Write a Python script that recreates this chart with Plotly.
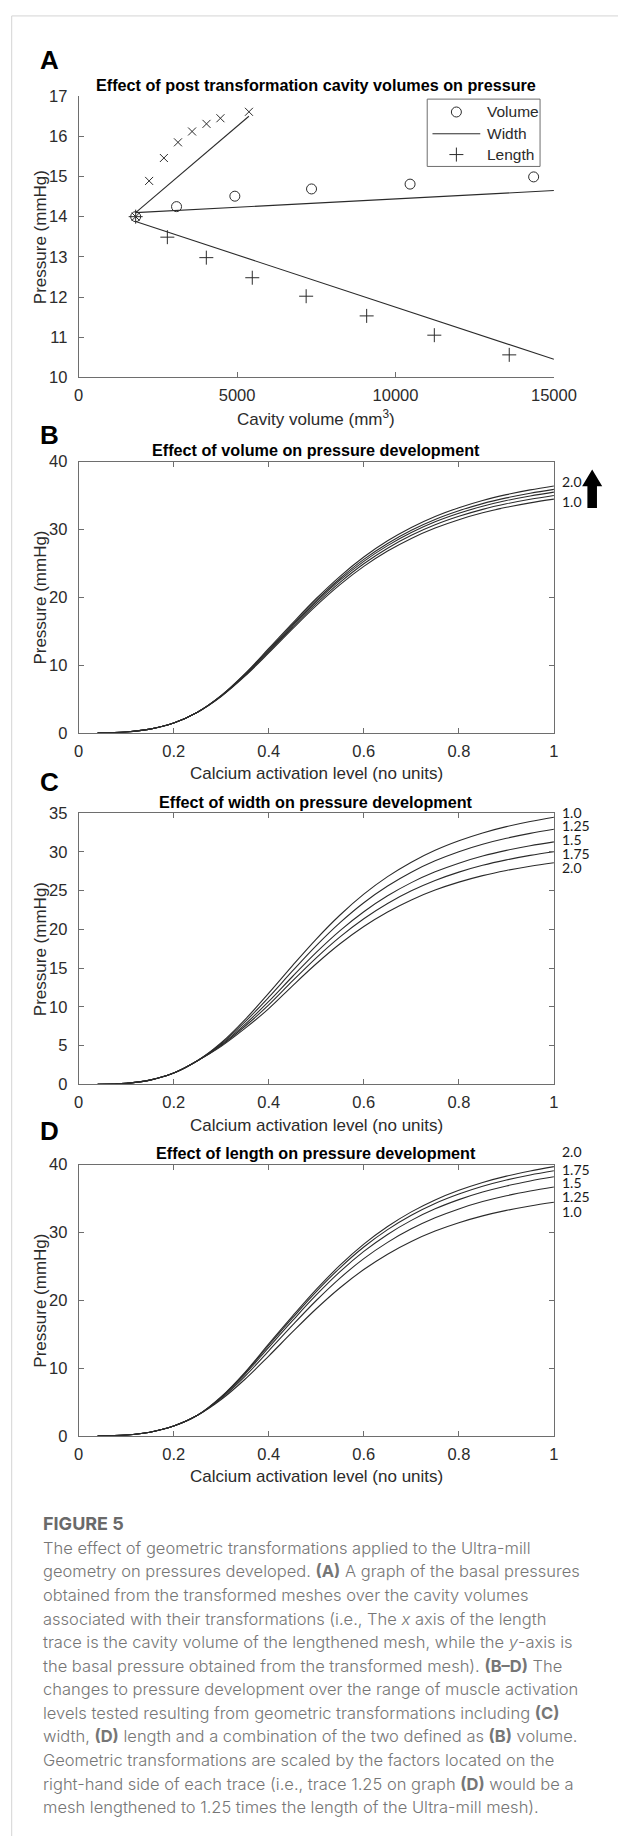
import plotly.graph_objects as go

W, H = 641, 1845


def px(x):
    return x / W


def py(y):
    return 1 - y / H


# ---------------- Panel A data ----------------
vol_x = [1800, 3090, 4930, 7350, 10460, 14360]
vol_y = [14.0, 14.25, 14.51, 14.69, 14.81, 14.99]
wid_x = [1800, 2225, 2690, 3135, 3580, 4035, 4475, 5375]
wid_y = [14.0, 14.89, 15.46, 15.85, 16.12, 16.31, 16.45, 16.61]
len_x = [1800, 2800, 4030, 5480, 7180, 9090, 11225, 13590]
len_y = [14.0, 13.49, 12.98, 12.48, 12.02, 11.53, 11.05, 10.56]
fit_vol_x = [1800, 15000]
fit_vol_y = [14.1, 14.65]
fit_wid_x = [1800, 5373]
fit_wid_y = [14.1, 16.5]
fit_len_x = [1800, 15000]
fit_len_y = [13.88, 10.45]

# ---------------- Panels B-D data ----------------
act = [0.04, 0.1, 0.15, 0.2, 0.25, 0.3, 0.35, 0.4, 0.45, 0.5, 0.55, 0.6,
       0.65, 0.7, 0.75, 0.8, 0.85, 0.9, 0.95, 1.0]

p_base = [0.0, 0.13, 0.55, 1.46, 3.05, 5.37, 8.36, 11.78, 15.33, 18.75, 21.85,
          24.54, 26.80, 28.67, 30.20, 31.43, 32.44, 33.25, 33.91, 34.46]

# B: volume
vol_125 = [0.0, 0.13, 0.55, 1.46, 3.05, 5.41, 8.47, 11.96, 15.57, 19.04, 22.19,
           24.93, 27.22, 29.12, 30.67, 31.92, 32.95, 33.77, 34.44, 35.00]
vol_150 = [0.0, 0.13, 0.55, 1.46, 3.05, 5.45, 8.56, 12.13, 15.79, 19.31, 22.51,
           25.28, 27.60, 29.53, 31.11, 32.37, 33.41, 34.25, 34.93, 35.49]
vol_175 = [0.0, 0.13, 0.55, 1.46, 3.05, 5.48, 8.64, 12.27, 15.97, 19.53, 22.76,
           25.57, 27.92, 29.87, 31.46, 32.74, 33.80, 34.64, 35.33, 35.90]
vol_200 = [0.0, 0.13, 0.55, 1.46, 3.05, 5.52, 8.74, 12.44, 16.19, 19.81, 23.08,
           25.92, 28.31, 30.28, 31.90, 33.20, 34.27, 35.12, 35.82, 36.40]

# C: width
wid_125 = [0.0, 0.13, 0.55, 1.46, 3.05, 5.25, 8.06, 11.25, 14.64, 17.91, 20.87,
           23.44, 25.59, 27.38, 28.84, 30.02, 30.98, 31.75, 32.38, 32.91]
wid_150 = [0.0, 0.13, 0.55, 1.46, 3.05, 5.12, 7.74, 10.70, 13.92, 17.03, 19.84,
           22.28, 24.33, 26.03, 27.42, 28.54, 29.46, 30.19, 30.79, 31.29]
wid_175 = [0.0, 0.13, 0.55, 1.46, 3.05, 5.02, 7.50, 10.26, 13.35, 16.33, 19.03,
           21.37, 23.34, 24.97, 26.30, 27.38, 28.26, 28.96, 29.54, 30.01]
wid_200 = [0.0, 0.13, 0.55, 1.46, 3.05, 4.91, 7.22, 9.78, 12.72, 15.56, 18.14,
           20.37, 22.24, 23.80, 25.07, 26.09, 26.93, 27.60, 28.15, 28.60]

# D: length
len_125 = [0.0, 0.13, 0.55, 1.46, 3.05, 5.54, 8.79, 12.55, 16.33, 19.97, 23.27,
           26.14, 28.54, 30.53, 32.16, 33.47, 34.55, 35.41, 36.11, 36.70]
len_150 = [0.0, 0.13, 0.55, 1.46, 3.05, 5.66, 9.09, 13.06, 16.99, 20.78, 24.22,
           27.20, 29.71, 31.78, 33.48, 34.84, 35.96, 36.86, 37.59, 38.20]
len_175 = [0.0, 0.13, 0.55, 1.46, 3.05, 5.73, 9.26, 13.37, 17.40, 21.28, 24.79,
           27.85, 30.41, 32.53, 34.27, 35.66, 36.81, 37.73, 38.48, 39.10]
len_200 = [0.0, 0.13, 0.55, 1.46, 3.05, 5.78, 9.38, 13.57, 17.66, 21.60, 25.17,
           28.27, 30.87, 33.03, 34.79, 36.21, 37.37, 38.30, 39.06, 39.70]

b_series = [p_base, vol_125, vol_150, vol_175, vol_200]
c_series = [p_base, wid_125, wid_150, wid_175, wid_200]
d_series = [p_base, len_125, len_150, len_175, len_200]

b_labels = ["2.0", "1.0"]
c_labels = ["1.0", "1.25", "1.5", "1.75", "2.0"]
d_labels = ["2.0", "1.75", "1.5", "1.25", "1.0"]

# tick definitions
a_xticks = [0, 5000, 10000, 15000]
a_yticks = [10, 11, 12, 13, 14, 15, 16, 17]
act_ticks = [0, 0.2, 0.4, 0.6, 0.8, 1]
act_ticktext = ["0", "0.2", "0.4", "0.6", "0.8", "1"]
b_yticks = [0, 10, 20, 30, 40]
c_yticks = [0, 5, 10, 15, 20, 25, 30, 35]
d_yticks = [0, 10, 20, 30, 40]

# ---------------- styling ----------------
INK = "#2b2b2b"
AXC = "#6e6e6e"
FONT = "Liberation Sans, Arial, sans-serif"
LBLFONT = "Lato, sans-serif"
CAPFONT = "Inter, Lato, sans-serif"
CAPC = "#767676"

fig = go.Figure()

# Panel A: fit lines
for fx, fy in ((fit_vol_x, fit_vol_y), (fit_wid_x, fit_wid_y), (fit_len_x, fit_len_y)):
    fig.add_trace(go.Scatter(x=fx, y=fy, mode="lines", line=dict(color=INK, width=1.1),
                             xaxis="x", yaxis="y", showlegend=False))
# Panel A: markers
fig.add_trace(go.Scatter(x=vol_x, y=vol_y, mode="markers",
                         marker=dict(symbol="circle-open", size=10, color=INK, line=dict(width=1)),
                         xaxis="x", yaxis="y", showlegend=False))
fig.add_trace(go.Scatter(x=wid_x, y=wid_y, mode="markers",
                         marker=dict(symbol="x-thin-open", size=8, color=INK, line=dict(width=1, color=INK)),
                         xaxis="x", yaxis="y", showlegend=False))
fig.add_trace(go.Scatter(x=len_x, y=len_y, mode="markers",
                         marker=dict(symbol="cross-thin-open", size=10, color=INK, line=dict(width=1, color=INK)),
                         xaxis="x", yaxis="y", showlegend=False))

# Panels B, C, D
for ax, series in (("2", b_series), ("3", c_series), ("4", d_series)):
    for s in series:
        fig.add_trace(go.Scatter(x=act, y=s, mode="lines",
                                 line=dict(color=INK, width=1.1, shape="spline", smoothing=1.0),
                                 xaxis="x" + ax, yaxis="y" + ax, showlegend=False))

# Overlay axis (pixel coordinates) for the legend symbols of panel A
fig.add_trace(go.Scatter(x=[472], y=[104], mode="markers",
                         marker=dict(symbol="circle-open", size=10, color=INK, line=dict(width=1)),
                         xaxis="x5", yaxis="y5", showlegend=False))
fig.add_trace(go.Scatter(x=[472], y=[147], mode="markers",
                         marker=dict(symbol="cross-thin-open", size=10, color=INK, line=dict(width=1, color=INK)),
                         xaxis="x5", yaxis="y5", showlegend=False))
fig.add_trace(go.Scatter(x=[447, 497], y=[126, 126], mode="lines",
                         line=dict(color=INK, width=1),
                         xaxis="x5", yaxis="y5", showlegend=False))


def axis_style(mirror, standoff):
    return dict(showline=True, linecolor=AXC, linewidth=1, mirror=mirror,
                ticks="inside", ticklen=5, tickwidth=1, tickcolor=AXC,
                showgrid=False, zeroline=False, ticklabelstandoff=standoff,
                tickfont=dict(family=FONT, size=16.5, color=INK),
                fixedrange=True)


XS, YS = 3, 7
XD = [px(77), px(574)]
layout = dict(
    width=W, height=H,
    margin=dict(l=0, r=0, t=0, b=0),
    paper_bgcolor="white", plot_bgcolor="rgba(0,0,0,0)",
    showlegend=False,
    xaxis=dict(domain=XD, range=[0, 15000], anchor="y", tickvals=a_xticks,
               ticktext=[str(v) for v in a_xticks], **axis_style(False, XS)),
    yaxis=dict(domain=[py(372), py(88)], range=[10, 17], anchor="x", tickvals=a_yticks,
               **axis_style(False, YS)),
    xaxis2=dict(domain=XD, range=[0, 1], anchor="y2", tickvals=act_ticks, ticktext=act_ticktext,
                **axis_style("ticks", XS)),
    yaxis2=dict(domain=[py(731), py(457)], range=[0, 40], anchor="x2", tickvals=b_yticks,
                **axis_style("ticks", YS)),
    xaxis3=dict(domain=XD, range=[0, 1], anchor="y3", tickvals=act_ticks, ticktext=act_ticktext,
                **axis_style("ticks", XS)),
    yaxis3=dict(domain=[py(1086), py(812)], range=[0, 35], anchor="x3", tickvals=c_yticks,
                **axis_style("ticks", YS)),
    xaxis4=dict(domain=XD, range=[0, 1], anchor="y4", tickvals=act_ticks, ticktext=act_ticktext,
                **axis_style("ticks", XS)),
    yaxis4=dict(domain=[py(1441), py(1167)], range=[0, 40], anchor="x4", tickvals=d_yticks,
                **axis_style("ticks", YS)),
    xaxis5=dict(domain=[0, 1], range=[0, W], anchor="y5", visible=False, fixedrange=True),
    yaxis5=dict(domain=[0, 1], range=[H, 0], anchor="x5", visible=False, fixedrange=True),
)
fig.update_layout(**layout)

annotations = []


def add_text(text, x, y, size, family=FONT, color=INK, xanchor="center", bold=False, angle=0, weight=None):
    f = dict(family=family, size=size, color=color)
    if weight is not None:
        f["weight"] = weight
    annotations.append(dict(text=("<b>%s</b>" % text) if bold else text,
                            x=px(x), y=py(y), xref="paper", yref="paper",
                            xanchor=xanchor, yanchor="middle", showarrow=False,
                            textangle=angle, font=f))


# panel letters
for letter, yy in (("A", 51), ("B", 430), ("C", 781), ("D", 1133)):
    add_text(letter, 35, yy, 26, color="#000000", xanchor="left", bold=True)

# panel titles
add_text("Effect of post transformation cavity volumes on pressure", 325.5, 77, 16.2, color="#000000", bold=True)
add_text("Effect of volume on pressure development", 325.5, 445, 16.2, color="#000000", bold=True)
add_text("Effect of width on pressure development", 325.5, 801, 16.2, color="#000000", bold=True)
add_text("Effect of length on pressure development", 325.5, 1155, 16.2, color="#000000", bold=True)

# axis titles
add_text("Cavity volume (mm<sup>3</sup>)", 325.5, 413, 17)
for yy in (772, 1127, 1482):
    add_text("Calcium activation level (no units)", 325.5, yy, 17)
for yc in (230, 594, 949, 1304):
    add_text("Pressure (mmHg)", 37, yc, 17, angle=-90)

# legend texts
add_text("Volume", 502, 104, 15.5, xanchor="left")
add_text("Width", 502, 126, 15.5, xanchor="left")
add_text("Length", 502, 147, 15.5, xanchor="left")

# curve labels
add_text(b_labels[0], 580, 477, 14, family=LBLFONT, color="#1a1a1a", xanchor="left")
add_text(b_labels[1], 580, 497, 14, family=LBLFONT, color="#1a1a1a", xanchor="left")
for lab, yy in zip(c_labels, (811, 825, 839, 853, 867)):
    add_text(lab, 580, yy, 14, family=LBLFONT, color="#1a1a1a", xanchor="left")
for lab, yy in zip(d_labels, (1154, 1172, 1185, 1199, 1214)):
    add_text(lab, 580, yy, 14, family=LBLFONT, color="#1a1a1a", xanchor="left")

# caption
add_text("FIGURE 5", 38, 1529, 18, family=CAPFONT, color="#6a6a6a", xanchor="left", bold=True)
caption_lines = [
    "The effect of geometric transformations applied to the Ultra-mill",
    "geometry on pressures developed. <b>(A)</b> A graph of the basal pressures",
    "obtained from the transformed meshes over the cavity volumes",
    "associated with their transformations (i.e., The <i>x</i> axis of the length",
    "trace is the cavity volume of the lengthened mesh, while the <i>y</i>-axis is",
    "the basal pressure obtained from the transformed mesh). <b>(B\u2013D)</b> The",
    "changes to pressure development over the range of muscle activation",
    "levels tested resulting from geometric transformations including <b>(C)</b>",
    "width, <b>(D)</b> length and a combination of the two defined as <b>(B)</b> volume.",
    "Geometric transformations are scaled by the factors located on the",
    "right-hand side of each trace (i.e., trace 1.25 on graph <b>(D)</b> would be a",
    "mesh lengthened to 1.25 times the length of the Ultra-mill mesh).",
]
for i, line in enumerate(caption_lines):
    add_text(line, 38, 1554 + i * 23.8, 16.5, family=CAPFONT, color=CAPC, xanchor="left", weight=300)

fig.update_layout(annotations=annotations)

# shapes: frame, legend box, arrow
shapes = [
    dict(type="line", xref="paper", yref="paper", x0=px(7), x1=1, y0=py(7), y1=py(7),
         line=dict(color="#d4d4d4", width=1)),
    dict(type="line", xref="paper", yref="paper", x0=px(7), x1=px(7), y0=py(7), y1=0,
         line=dict(color="#d4d4d4", width=1)),
    dict(type="rect", xref="paper", yref="paper", x0=px(441.5), x1=px(559.5), y0=py(159), y1=py(91),
         line=dict(color=AXC, width=1), fillcolor="rgba(255,255,255,1)", layer="below"),
]
arrow_pts = [(609, 504), (619, 504), (619, 482), (624.5, 482), (614, 465), (603.5, 482), (609, 482)]
path = "M " + " L ".join("%.5f,%.5f" % (px(a), py(b)) for a, b in arrow_pts) + " Z"
shapes.append(dict(type="path", xref="paper", yref="paper", path=path,
                   fillcolor="#000000", line=dict(color="#000000", width=0)))
fig.update_layout(shapes=shapes)

fig.write_html("out.html", config={"displayModeBar": False},
               post_script="document.body.style.margin='0px';")
